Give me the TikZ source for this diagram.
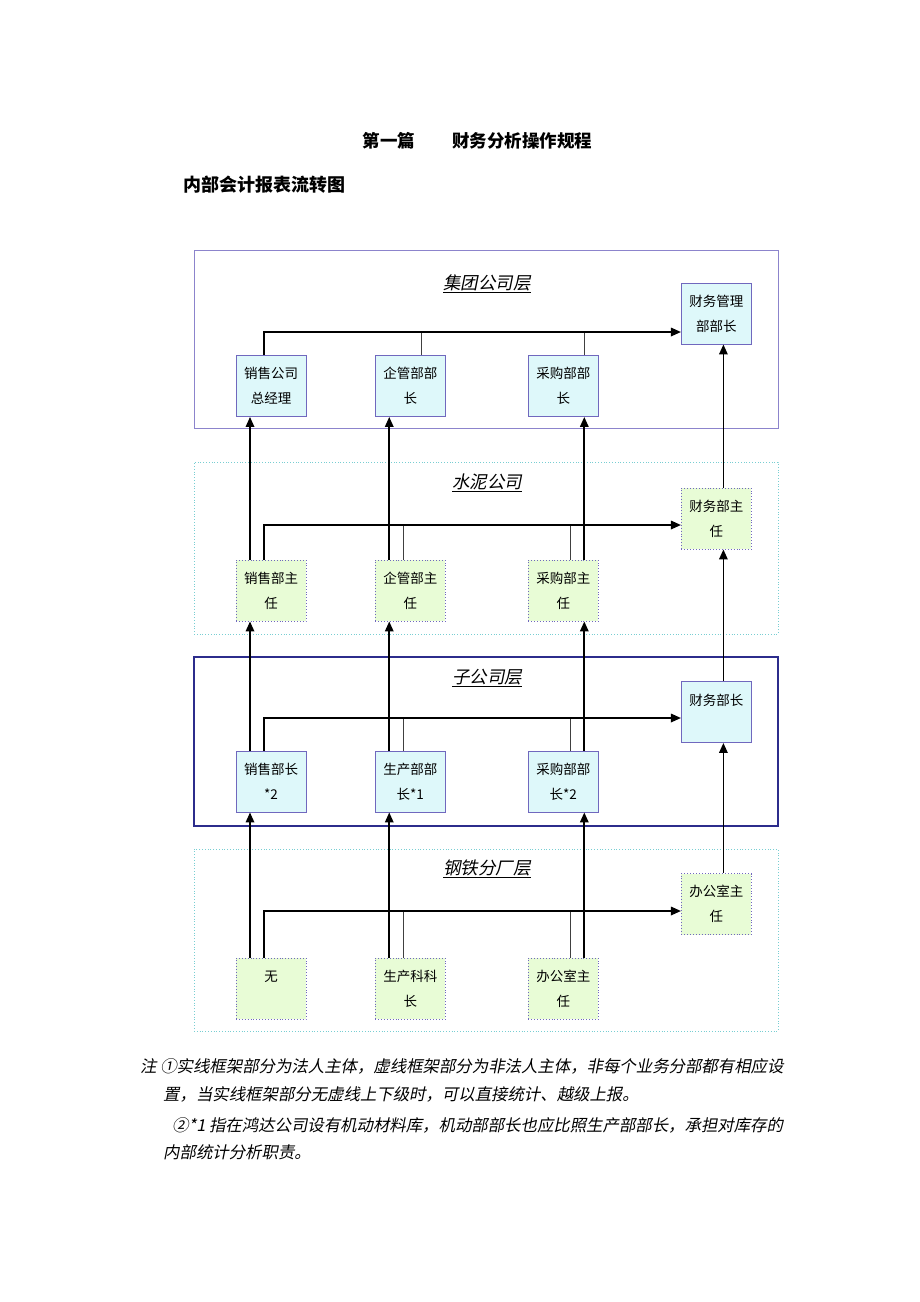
\documentclass[tikz,border=0pt]{standalone}
\usepackage{fontspec}
\setmainfont{Noto Sans CJK SC}
\newfontfamily\cjkslant{Noto Sans CJK SC}[FakeSlant=0.2]
\usepackage{tikz}
\usetikzlibrary{arrows.meta,positioning,calc}

\definecolor{boxblue}{RGB}{222,248,250}
\definecolor{boxgreen}{RGB}{232,252,214}
\definecolor{boxline}{RGB}{112,104,190}
\definecolor{layerline}{RGB}{140,132,204}
\definecolor{subline}{RGB}{44,44,140}
\definecolor{dotline}{RGB}{120,206,210}

\begin{document}
\begin{tikzpicture}[
    %–––– GLOBAL STYLE TWEAKS ––––
    x=1pt, y=1pt,
    >={Triangle[length=10pt,width=8.5pt]},
    post/.style    = {rectangle, draw=boxline, line width=0.9pt, fill=boxblue,
                      minimum width=70pt, minimum height=61pt, inner sep=0pt,
                      align=center, font=\fontsize{13.5}{25}\selectfont},
    dotpost/.style = {post, dotted, fill=boxgreen},          % dashed frame parts
    layer/.style   = {rectangle, draw=layerline, line width=0.8pt,
                      minimum width=584pt, inner sep=0pt},
    sublayer/.style= {layer, draw=subline, line width=1.3pt},
    dotlayer/.style= {layer, draw=dotline, dotted, line width=1pt},
    tag/.style     = {font=\fontsize{17.5}{20}\selectfont\cjkslant},
    note/.style    = {anchor=west, inner sep=0pt, font=\fontsize{16.4}{18}\selectfont\cjkslant},
    arrow/.style   = {->, line width=1.7pt},
    drop/.style    = {line width=1pt, draw=black!75},
]
\useasboundingbox (0,0) rectangle (920,-1302);

%–––– HEADINGS ––––
\node (part)  at (389,-141) {\fontsize{17.5}{20}\selectfont\bfseries 第一篇};
\node (topic) at (522,-141) {\fontsize{17.5}{20}\selectfont\bfseries 财务分析操作规程};
\node (chart) at (264,-185) {\fontsize{18}{20}\selectfont\bfseries 内部会计报表流转图};

%–––– LAYER FRAMES ––––
\node (g1) [layer,    minimum height=178pt] at (486,-339)   {};
\node (g2) [dotlayer, minimum height=172pt] at (486,-548)   {};
\node (g3) [sublayer, minimum height=169pt] at (486,-741.5) {};
\node (g4) [dotlayer, minimum height=182pt] at (486,-940)   {};

\node (tag1) [tag] at (487,-284) {\underline{集团公司层}};
\node (tag2) [tag] at (487,-483) {\underline{水泥公司}};
\node (tag3) [tag] at (487,-678) {\underline{子公司层}};
\node (tag4) [tag] at (487,-869) {\underline{钢铁分厂层}};

%–––– GROUP LEVEL ––––
\node (sales1) [post] at (271,-386)    {销售公司\\总经理};
\node (mid1)   [post] at (410.25,-386) {企管部部\\长};
\node (buy1)   [post] at (563.3,-386)  {采购部部\\长};
\node (fin1)   [post] at (716.4,-313.5){财务管理\\部部长};

%–––– CEMENT COMPANY ––––
\node (sales2) [dotpost] at (271,-590.5)    {销售部主\\任};
\node (mid2)   [dotpost] at (410.25,-590.5) {企管部主\\任};
\node (buy2)   [dotpost] at (563.3,-590.5)  {采购部主\\任};
\node (fin2)   [dotpost] at (716.4,-518.5)  {财务部主\\任};

%–––– SUBSIDIARY ––––
\node (sales3) [post] at (271,-781.5)    {销售部长\\*2};
\node (mid3)   [post] at (410.25,-781.5) {生产部部\\长*1};
\node (buy3)   [post] at (563.3,-781.5)  {采购部部\\长*2};
\node (fin3)   [post] at (716.4,-712)    {财务部长\\~};

%–––– STEEL PLANT ––––
\node (sales4) [dotpost] at (271,-988.5)    {无\\~};
\node (mid4)   [dotpost] at (410.25,-988.5) {生产科科\\长};
\node (buy4)   [dotpost] at (563.3,-988.5)  {办公室主\\任};
\node (fin4)   [dotpost] at (716.4,-904)    {办公室主\\任};

%–––– REPORTING UP ––––
\foreach \lo/\hi in {4/3, 3/2, 2/1} {
  \draw[arrow] ([xshift=-21pt]sales\lo.north) -- ([xshift=-21pt]sales\hi.south);
  \draw[arrow] ([xshift=-21pt]mid\lo.north)   -- ([xshift=-21pt]mid\hi.south);
  \draw[arrow] ([xshift=21pt]buy\lo.north)    -- ([xshift=21pt]buy\hi.south);
  \draw[arrow] ([xshift=7pt]fin\lo.north)     -- ([xshift=7pt]fin\hi.south);
}

%–––– TO FINANCE ––––
\foreach \g/\dy/\mx/\bx in {1/-18.5/11/21, 2/-6.5/-7/7, 3/-6/-7/7, 4/-7/-7/7} {
  \coordinate (bus\g) at ([yshift=\dy pt]fin\g.west);
  \coordinate (m) at ([xshift=\mx pt]mid\g.north);
  \coordinate (b) at ([xshift=\bx pt]buy\g.north);
  \draw[drop] (m) -- (m |- bus\g);
  \draw[drop] (b) -- (b |- bus\g);
  \draw[arrow] ([xshift=-7pt]sales\g.north) |- (bus\g);
}

%–––– NOTES ––––
\node (note1) [note] at (140,-1066) {注 ①实线框架部分为法人主体，虚线框架部分为非法人主体，非每个业务分部都有相应设};
\node (note2) [note] at (163,-1094) {置，当实线框架部分无虚线上下级时，可以直接统计、越级上报。};
\node (note3) [note] at (172,-1125) {②*1 指在鸿达公司设有机动材料库，机动部部长也应比照生产部部长，承担对库存的};
\node (note4) [note] at (163,-1152) {内部统计分析职责。};
\end{tikzpicture}
\end{document}
